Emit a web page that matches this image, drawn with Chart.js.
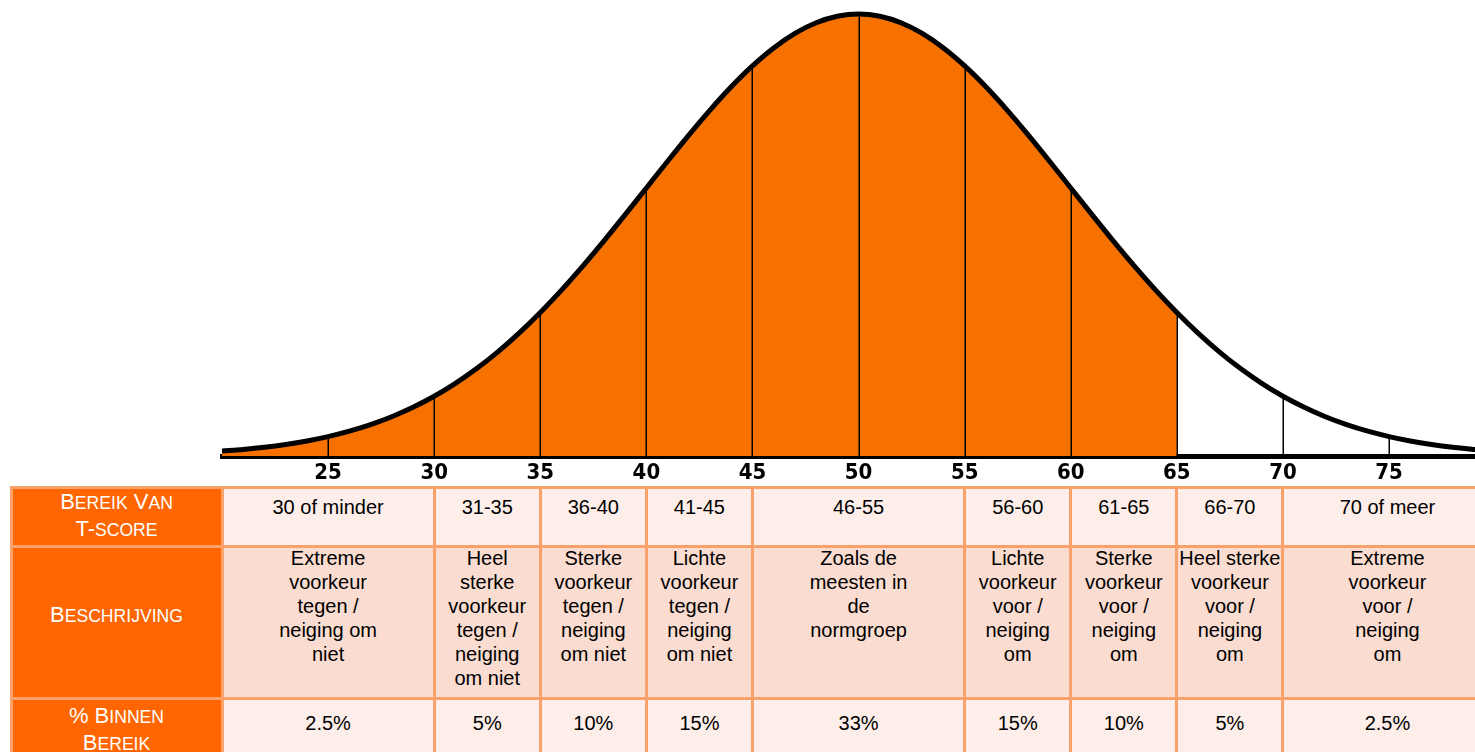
<!DOCTYPE html>
<html><head><meta charset="utf-8">
<script src="https://cdn.jsdelivr.net/npm/chart.js@4.4.1/dist/chart.umd.min.js"></script>
<style>
html,body{margin:0;padding:0;background:#fff;width:1475px;height:752px;overflow:hidden;font-family:"Liberation Sans",Arial,sans-serif;}
#chartBox{position:absolute;left:0;top:0;width:1475px;height:486px;}
#tableBox{position:absolute;left:0;top:0;width:1475px;height:752px;overflow:hidden;pointer-events:none;}
.grid{position:absolute;background:#F8A16B;}
.cell{position:absolute;box-sizing:border-box;text-align:center;font-size:20px;line-height:24px;color:#000;white-space:nowrap;overflow:hidden;}
.cell .in{position:relative;}
.hdr{background:#FF6600;color:#fff;font-size:22px;line-height:26px;}
.hdr .s{font-size:17.6px;text-transform:uppercase;}
</style></head><body>
<div id="chartBox"><canvas id="c"></canvas></div>
<div id="tableBox"></div>
<script>
// ---- data ----
const tValues = [20,21,22,23,24,25,26,27,28,29,30,31,32,33,34,35,36,37,38,39,40,41,42,43,44,45,46,47,48,49,50,
  51,52,53,54,55,56,57,58,59,60,61,62,63,64,65,66,67,68,69,70,71,72,73,74,75,76,77,78,79,80];
const density = [1.11,1.49,1.98,2.61,3.40,4.39,5.61,7.10,8.89,11.03,13.53,16.45,19.79,23.57,27.80,32.47,37.53,42.96,48.68,54.61,60.65,
  66.69,72.61,78.27,83.53,88.25,92.31,95.60,98.02,99.50,100,
  99.50,98.02,95.60,92.31,88.25,83.53,78.27,72.61,66.69,60.65,54.61,48.68,42.96,37.53,32.47,27.80,23.57,19.79,16.45,13.53,
  11.03,8.89,7.10,5.61,4.39,3.40,2.61,1.98,1.49,1.11];
const tickLabels = [25,30,35,40,45,50,55,60,65,70,75];
const dividerValues = [25,30,35,40,45,50,55,60,65,70,75];
const fillEnd = 65;
const columnBounds = [20,30,35,40,45,55,60,65,70];
const rowHeaders = [["Bereik Van","T-score"],["Beschrijving"],["% Binnen","Bereik"]];
const rangeLabels = ["30 of minder","31-35","36-40","41-45","46-55","56-60","61-65","66-70","70 of meer"];
const descriptions = [
  ["Extreme","voorkeur","tegen /","neiging om","niet"],
  ["Heel","sterke","voorkeur","tegen /","neiging","om niet"],
  ["Sterke","voorkeur","tegen /","neiging","om niet"],
  ["Lichte","voorkeur","tegen /","neiging","om niet"],
  ["Zoals de","meesten in","de","normgroep"],
  ["Lichte","voorkeur","voor /","neiging","om"],
  ["Sterke","voorkeur","voor /","neiging","om"],
  ["Heel sterke","voorkeur","voor /","neiging","om"],
  ["Extreme","voorkeur","voor /","neiging","om"]
];
const percentages = ["2.5%","5%","10%","15%","33%","15%","10%","5%","2.5%"];

// ---- chart ----
const pts = tValues.map((t,i)=>({x:t,y:density[i]}));
const fillPts = pts.filter(p=>p.x<=fillEnd);

const dividerPlugin = {
  id:'dividers',
  afterDatasetDraw(chart,args){
    if(args.index!==1) return;
    const {ctx,scales:{x,y}} = chart;
    ctx.save();
    ctx.strokeStyle='#000'; ctx.lineWidth=1.5;
    dividerValues.forEach(v=>{
      const i = tValues.indexOf(v);
      const px = Math.round(x.getPixelForValue(v))+0.25;
      ctx.beginPath();
      ctx.moveTo(px,y.getPixelForValue(0));
      ctx.lineTo(px,y.getPixelForValue(density[i]));
      ctx.stroke();
    });
    ctx.restore();
  }
};

const chart = new Chart(document.getElementById('c'),{
  type:'line',
  data:{datasets:[
    {data:pts,borderColor:'#000',borderWidth:5,pointRadius:0,fill:false,cubicInterpolationMode:'monotone',order:0},
    {data:fillPts,borderWidth:0,borderColor:'rgba(0,0,0,0)',backgroundColor:'#F77100',pointRadius:0,fill:'origin',cubicInterpolationMode:'monotone',order:1}
  ]},
  options:{
    responsive:true,maintainAspectRatio:false,animation:false,
    layout:{padding:{left:222,right:0,top:0,bottom:0}},
    plugins:{legend:{display:false},tooltip:{enabled:false}},
    scales:{
      x:{type:'linear',min:20,max:79.05,z:1,
        grid:{display:false},
        border:{display:true,color:'#000',width:5},
        afterBuildTicks:s=>{s.ticks=tickLabels.map(v=>({value:v}));},
        afterFit:s=>{s.height=30;},
        ticks:{color:'#000',padding:-4,maxRotation:0,autoSkip:false,
          font:{family:'"Liberation Sans Narrow","DejaVu Sans Condensed","Liberation Sans",sans-serif',style:'condensed',weight:'bold',size:22}}
      },
      y:{display:false,min:0,max:103.17}
    }
  },
  plugins:[dividerPlugin]
});

// ---- table below, columns aligned with the chart's x scale ----
function smallCaps(str){
  return str.replace(/[a-z]+/g,m=>'<span class="s">'+m+'</span>');
}
const box = document.getElementById('tableBox');
const xs = chart.scales.x;
const colPx = [11].concat(columnBounds.map(v=>xs.getPixelForValue(v))).concat([1492]);
const rowPx = [487.5,546,698.5,762];
const g = document.createElement('div');
g.className='grid';
g.style.left=(colPx[0]-1.5)+'px'; g.style.top=(rowPx[0]-1.5)+'px';
g.style.width=(1500-colPx[0])+'px'; g.style.height=(770-rowPx[0])+'px';
box.appendChild(g);
const dataOff=[6,-2,11], hdrOff=[0,54,3];
const rowBg=['#FDEEE9','#FBDCD0','#FDEEE9'];
for(let r=0;r<3;r++){
  for(let c=0;c<colPx.length-1;c++){
    const d=document.createElement('div');
    d.className='cell'+(c===0?' hdr':'');
    d.style.left=(colPx[c]+1.5)+'px';
    d.style.width=(colPx[c+1]-colPx[c]-3)+'px';
    d.style.top=(rowPx[r]+1.5)+'px';
    d.style.height=(rowPx[r+1]-rowPx[r]-3)+'px';
    const inner=document.createElement('div');
    inner.className='in';
    if(c===0){
      inner.style.top=hdrOff[r]+'px';
      inner.innerHTML=rowHeaders[r].map(smallCaps).join('<br>');
    } else {
      d.style.background=rowBg[r];
      inner.style.top=dataOff[r]+'px';
      const k=c-1;
      if(r===0) inner.textContent=rangeLabels[k];
      else if(r===1) inner.innerHTML=descriptions[k].join('<br>');
      else inner.textContent=percentages[k];
    }
    d.appendChild(inner);
    box.appendChild(d);
  }
}
</script>
</body></html>
